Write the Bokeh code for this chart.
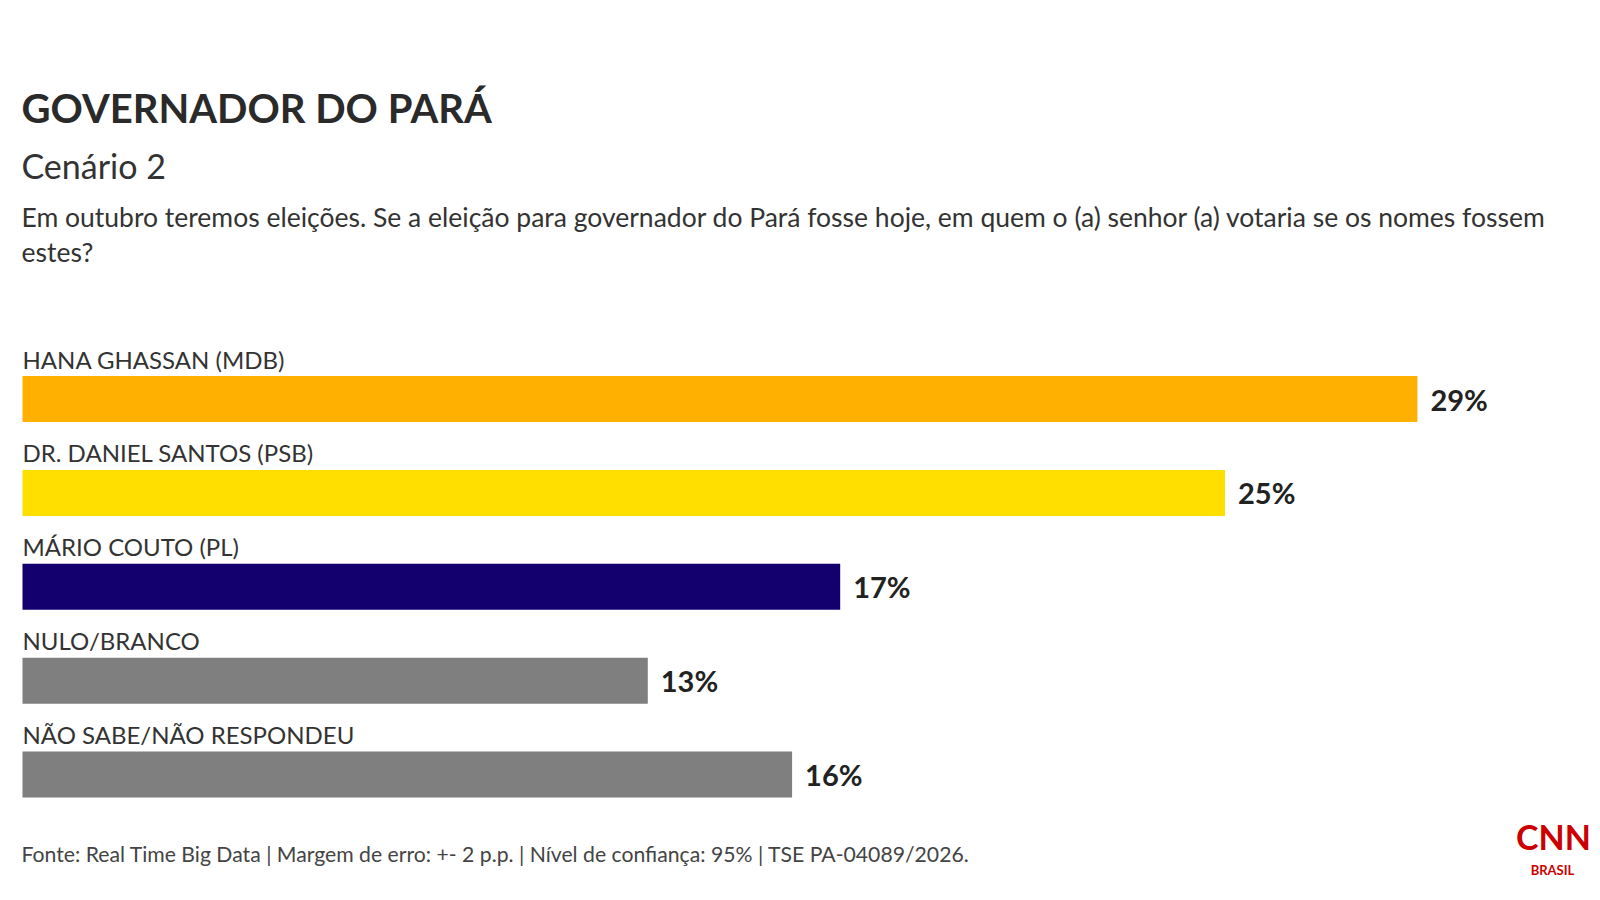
from bokeh.plotting import figure
from bokeh.models import Range1d, ColumnDataSource
from bokeh.core.properties import value
from bokeh.embed import file_html
from bokeh.resources import INLINE

# --- chart content -------------------------------------------------------
title = "GOVERNADOR DO PARÁ"
subtitle = "Cenário 2"
question = [
    "Em outubro teremos eleições. Se a eleição para governador do Pará fosse hoje, "
    "em quem o (a) senhor (a) votaria se os nomes fossem",
    "estes?",
]
candidates = [
    "HANA GHASSAN (MDB)",
    "DR. DANIEL SANTOS (PSB)",
    "MÁRIO COUTO (PL)",
    "NULO/BRANCO",
    "NÃO SABE/NÃO RESPONDEU",
]
percent = [29, 25, 17, 13, 16]
colors = ["#FFB000", "#FFDF00", "#13006E", "#7F7F7F", "#7F7F7F"]
source_note = ("Fonte: Real Time Big Data | Margem de erro: +- 2 p.p. | "
               "Nível de confiança: 95% | TSE PA-04089/2026.")

# --- layout --------------------------------------------------------------
W, H = 1600, 900
LEFT = 22            # pixel where 0% sits
PX_PER_PCT = 48.1    # horizontal scale
FONT = "Lato"
TXT = "#333333"

first_center, pitch, bar_h = 398.5, 93.9, 46
centers = [first_center + i * pitch for i in range(len(candidates))]

p = figure(width=W, height=H, output_backend="svg", toolbar_location=None,
           x_range=Range1d(-LEFT / PX_PER_PCT, (W - LEFT) / PX_PER_PCT),
           y_range=Range1d(H, 0), min_border=0)
p.axis.visible = False
p.grid.visible = False
p.outline_line_color = None
p.background_fill_color = "white"
p.border_fill_color = "white"

def px(x):
    return (x - LEFT) / PX_PER_PCT

src = ColumnDataSource(dict(
    y=centers,
    right=percent,
    color=colors,
    name=candidates,
    label_y=[c - 40 for c in centers],
    pct=[f"{v}%" for v in percent],
))

p.hbar(y="y", left=0, right="right", height=bar_h, fill_color="color",
       line_color=None, source=src)

# category names above each bar
p.text(x=0, y="label_y", text="name", source=src, text_font=value(FONT),
       text_font_size="24px", text_color=TXT, text_baseline="alphabetic")

# value labels at the end of each bar
p.text(x="right", y="y", text="pct", source=src, x_offset=13,
       text_font=value(FONT), text_font_size="29px", text_font_style="bold",
       text_color="#222222", text_baseline="middle")

# headings
p.text(x=[px(21)], y=[107], text=[title], text_font=value(FONT),
       text_font_size="40px", text_font_style="bold", text_color="#2a2a2a",
       text_baseline="alphabetic")
p.text(x=[px(21)], y=[165], text=[subtitle], text_font=value(FONT),
       text_font_size="34px", text_color=TXT, text_baseline="alphabetic")
p.text(x=[px(21), px(21)], y=[216, 251], text=question, text_font=value(FONT),
       text_font_size="26.5px", text_color=TXT, text_baseline="alphabetic")

# footer
p.text(x=[px(21)], y=[853], text=[source_note], text_font=value(FONT),
       text_font_size="21.2px", text_color="#444444", text_baseline="alphabetic")

# brand mark
p.text(x=[px(1553)], y=[836], text=["CNN"], text_font=value(FONT),
       text_font_size="34px", text_font_style="bold", text_color="#CC0000",
       text_align="center", text_baseline="alphabetic")
p.text(x=[px(1552)], y=[869], text=["BRASIL"], text_font=value(FONT),
       text_font_size="13px", text_font_style="bold", text_color="#CC0000",
       text_align="center", text_baseline="alphabetic")

open("out.html", "w").write(file_html(p, INLINE))
